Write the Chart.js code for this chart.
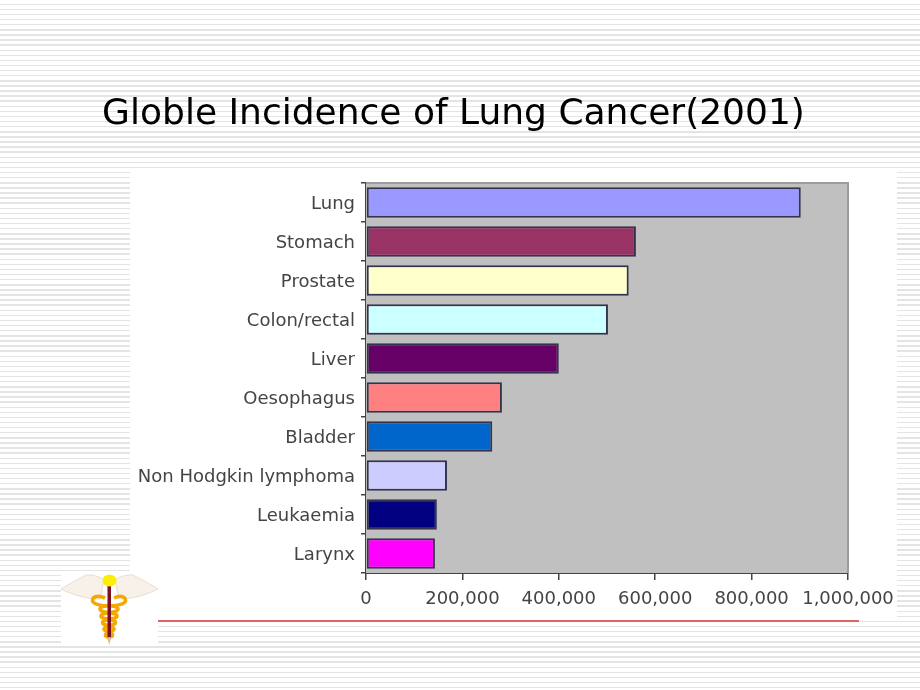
<!DOCTYPE html>
<html>
<head>
<meta charset="utf-8">
<script src="https://cdn.jsdelivr.net/npm/chart.js@4"></script>
<style>
  html, body { margin: 0; padding: 0; }
  body {
    width: 920px; height: 690px; overflow: hidden; position: relative;
    background: repeating-linear-gradient(to bottom, #fff 0, #fff 3.6px, #e4e4e4 3.6px, #e4e4e4 5.1px);
  }
  .panel { position: absolute; background: #fff; }
  #rule { position: absolute; left: 158px; top: 620px; width: 701px; height: 2px; background: #dc6464; }
  #logo { position: absolute; left: 61px; top: 574px; width: 97px; height: 72px; background: #fff; }
  canvas { position: absolute; left: 0; top: 0; filter: blur(0.5px); }
</style>
</head>
<body>
<div class="panel" style="left:130px;top:172px;width:767px;height:448px"></div>
<div id="rule"></div>
<svg id="logo" viewBox="0 0 97 72">
  <path d="M43 6 C36 1 30 1 25 1 C16 6 6 11 0 15 C12 21 26 25 39 25 Z" fill="#f8f1ea" stroke="#eadbd0" stroke-width="1"/>
  <path d="M54 6 C61 1 67 1 72 1 C81 6 91 11 97 15 C85 21 71 25 58 25 Z" fill="#f8f1ea" stroke="#eadbd0" stroke-width="1"/>
  <g fill="none" stroke="#f5a800" stroke-width="3.6">
    <path d="M44 24 C35 20 30 24 32 28 C36 33 60 33 64 28 C66 24 61 20 53 24"/>
    <ellipse cx="48" cy="35" rx="9" ry="3.4"/>
    <ellipse cx="48" cy="42" rx="8" ry="3"/>
    <ellipse cx="48" cy="48.5" rx="6.5" ry="2.8"/>
    <ellipse cx="48" cy="55" rx="5" ry="2.4"/>
    <ellipse cx="48" cy="61" rx="3.5" ry="2"/>
  </g>
  <rect x="46.5" y="11" width="3.5" height="52" fill="#7a1020"/>
  <path d="M46 64 L50 64 L48.5 71 Z" fill="#d9c090"/>
  <ellipse cx="48.5" cy="6.5" rx="7" ry="6" fill="#ffee00"/>
</svg>
<canvas id="chart" width="920" height="690"></canvas>
<script>
const categories = ['Lung', 'Stomach', 'Prostate', 'Colon/rectal', 'Liver', 'Oesophagus', 'Bladder', 'Non Hodgkin lymphoma', 'Leukaemia', 'Larynx'];
const incidence = [902000, 560000, 545000, 502000, 400000, 282000, 262000, 168000, 147000, 143000];
const barColors = ['#9999ff', '#993366', '#ffffcc', '#ccffff', '#660066', '#ff8080', '#0066cc', '#ccccff', '#000080', '#ff00ff'];
const tickValues = [0, 200000, 400000, 600000, 800000, 1000000];

// grey plot background with its light top and right edges
const plotBack = {
    id: 'plotBack',
    beforeDatasetsDraw(chart) {
        const { ctx, chartArea: a } = chart;
        ctx.save();
        ctx.fillStyle = '#c0c0c0';
        ctx.fillRect(a.left, a.top, a.width, a.height);
        ctx.strokeStyle = '#9c9c9c';
        ctx.lineWidth = 2;
        ctx.beginPath();
        ctx.moveTo(a.left, a.top);
        ctx.lineTo(a.right, a.top);
        ctx.lineTo(a.right, a.bottom);
        ctx.stroke();
        ctx.restore();
    }
};

const ctx = document.getElementById('chart');
new Chart(ctx, {
    type: 'bar',
    plugins: [plotBack],
    data: {
        labels: categories,
        datasets: [{
            label: 'Incidence',
            data: incidence,
            backgroundColor: barColors,
            borderColor: '#33334d',
            borderWidth: 2,
            borderSkipped: false,
            categoryPercentage: 1,
            barPercentage: 0.78
        }]
    },
    options: {
        indexAxis: 'y',
        responsive: false,
        animation: false,
        layout: { padding: { left: 59, right: 72, top: 0, bottom: 77 } },
        plugins: {
            legend: { display: false },
            tooltip: { enabled: false },
            title: {
                display: true,
                text: 'Globle Incidence of Lung Cancer(2001)',
                color: '#000',
                font: { family: '"DejaVu Sans"', size: 36, weight: 'normal' },
                padding: { top: 93, bottom: 46.8 }
            }
        },
        scales: {
            x: {
                type: 'linear',
                min: 0,
                max: 1000000,
                afterBuildTicks: scale => { scale.ticks = tickValues.map(v => ({ value: v })); },
                afterFit: scale => { scale.height = 40; },
                grid: { drawOnChartArea: false, drawTicks: true, tickLength: 7, color: '#444', lineWidth: 1.5 },
                border: { color: '#444', width: 2 },
                ticks: {
                    color: '#444',
                    padding: 9,
                    maxRotation: 0,
                    autoSkip: false,
                    font: { family: '"DejaVu Sans"', size: 18 },
                    callback: v => v.toLocaleString('en-US')
                }
            },
            y: {
                afterFit: scale => { scale.width = 307; },
                grid: { drawOnChartArea: false, drawTicks: true, tickLength: 5, color: '#444', lineWidth: 1.5 },
                border: { color: '#444', width: 2 },
                ticks: {
                    color: '#444',
                    padding: 6,
                    labelOffset: 1.5,
                    autoSkip: false,
                    font: { family: '"DejaVu Sans"', size: 18 }
                }
            }
        }
    }
});
</script>
</body>
</html>
